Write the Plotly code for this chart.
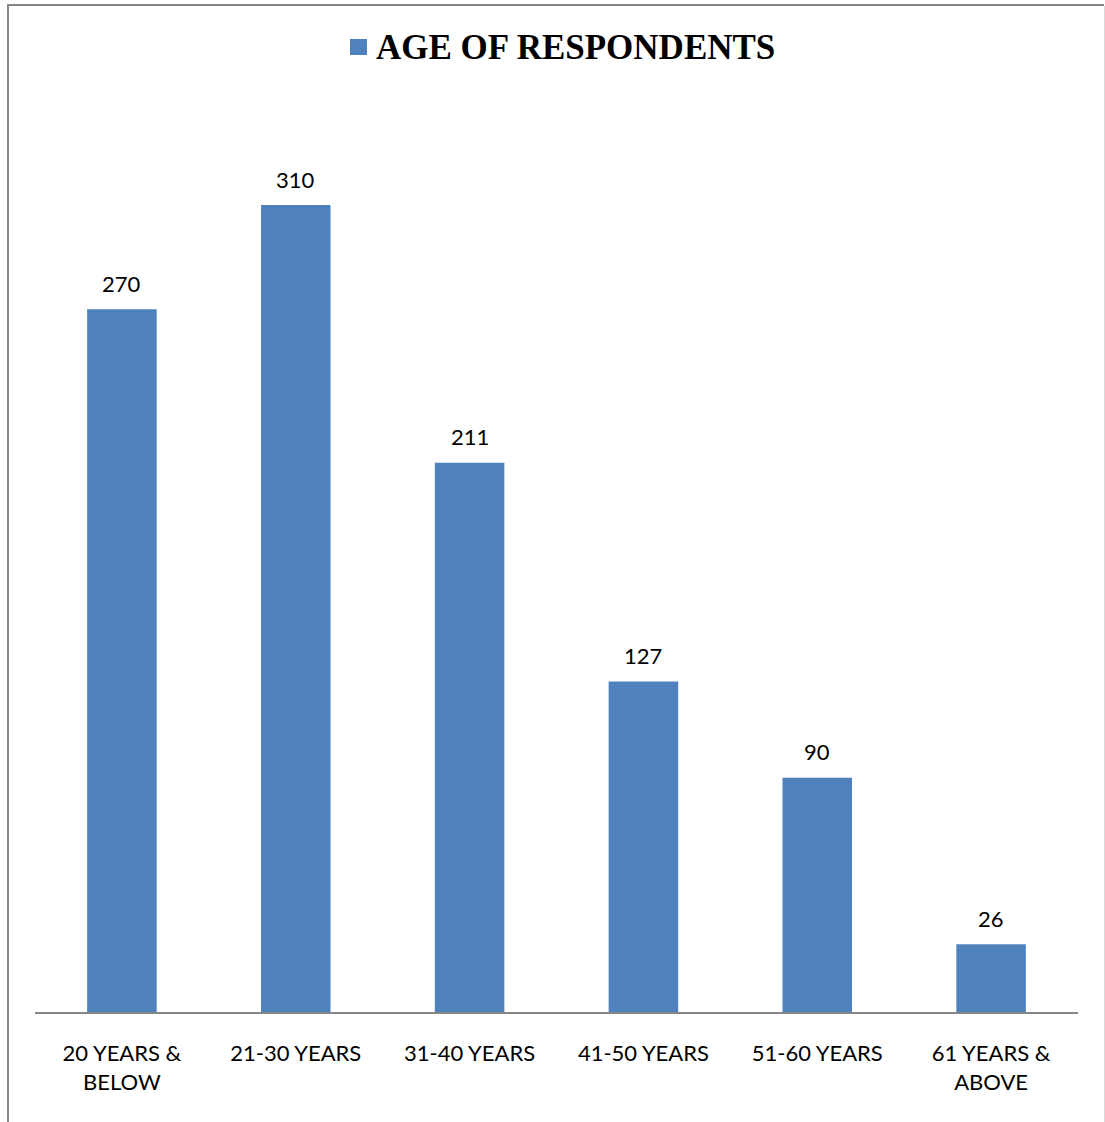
import plotly.graph_objects as go

# Respondent counts by age group
series_name = "AGE OF RESPONDENTS"
categories = ["20 YEARS &<br>BELOW", "21-30 YEARS", "31-40 YEARS",
              "41-50 YEARS", "51-60 YEARS", "61 YEARS &<br>ABOVE"]
counts = [270, 310, 211, 127, 90, 26]

BAR_BLUE = "#4F81BD"
FRAME_GREY = "#868686"
LABEL_FONT = dict(family="Lato, Carlito, Calibri, sans-serif", size=22, color="#000000")

W, H = 1105, 1122
ML, MR, MT, MB = 35, 27, 101, 110
pw, ph = W - ML - MR, H - MT - MB


def px(x):
    """pixel column -> paper x"""
    return (x - ML) / pw


def py(y):
    """pixel row -> paper y"""
    return (H - MB - y) / ph


fig = go.Figure(
    go.Bar(
        x=categories,
        y=counts,
        name=series_name,
        marker=dict(color=BAR_BLUE, line=dict(width=0)),
        width=0.4,
        hoverinfo="x+y",
    )
)

# value labels above each bar
for cat, val in zip(categories, counts):
    fig.add_annotation(
        x=cat, y=val, text=str(val), showarrow=False,
        xref="x", yref="y", yanchor="middle", yshift=26,
        font=LABEL_FONT,
    )

# series title next to its colour key
fig.add_annotation(
    x=px(575), y=py(47), xref="paper", yref="paper",
    xanchor="center", yanchor="middle",
    text=f"<b>{series_name}</b>", showarrow=False,
    font=dict(family="Liberation Serif, Times New Roman, serif", size=35, color="#000000"),
)

shapes = [
    # legend key square
    dict(type="rect", xref="paper", yref="paper", x0=px(350), x1=px(367),
         y0=py(55), y1=py(39), fillcolor=BAR_BLUE, line=dict(width=0)),
    # outer chart frame (top, left, right)
    dict(type="line", xref="paper", yref="paper", x0=px(7), x1=px(1104),
         y0=py(5), y1=py(5), line=dict(color=FRAME_GREY, width=2)),
    dict(type="line", xref="paper", yref="paper", x0=px(8), x1=px(8),
         y0=py(5), y1=py(1125), line=dict(color=FRAME_GREY, width=2)),
    dict(type="line", xref="paper", yref="paper", x0=px(1104.5), x1=px(1104.5),
         y0=py(6), y1=py(1125), line=dict(color="#D9D9D9", width=1)),
]

fig.update_layout(
    width=W, height=H,
    margin=dict(l=ML, r=MR, t=MT, b=MB, pad=0),
    paper_bgcolor="white", plot_bgcolor="white",
    showlegend=False,
    shapes=shapes,
    bargap=0.6,
    xaxis=dict(
        type="category", showline=True, linecolor=FRAME_GREY, linewidth=1.5,
        ticks="", showgrid=False, tickfont=LABEL_FONT, ticklabelstandoff=21,
        fixedrange=True,
    ),
    yaxis=dict(
        range=[0, 350], visible=False, showgrid=False, zeroline=False,
        fixedrange=True,
    ),
)

fig.write_html("out.html")
